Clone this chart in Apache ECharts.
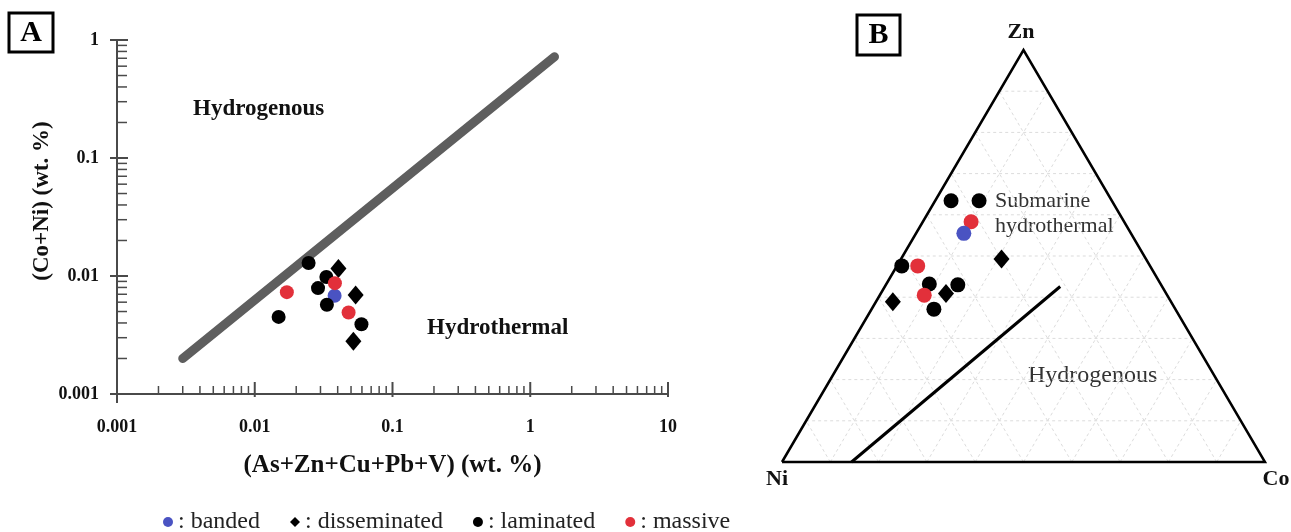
<!DOCTYPE html>
<html>
<head>
<meta charset="utf-8">
<title>Co+Ni vs As+Zn+Cu+Pb+V, Ni-Zn-Co</title>
<script src="https://cdn.jsdelivr.net/npm/echarts@6/dist/echarts.min.js"></script>
<style>
html, body {margin: 0; padding: 0; background: #fff;}
#chart {width: 1291px; height: 532px;}
</style>
</head>
<body>
<div id="chart"></div>
<script>
// 图A：[As+Zn+Cu+Pb+V, Co+Ni]，单位 wt.%
var bandedA = [[0.038, 0.0068]];
var dissemA = [[0.0405, 0.0116], [0.054, 0.0069], [0.052, 0.0028]];
var laminA = [[0.0246, 0.0129], [0.0331, 0.0098], [0.0288, 0.0079], [0.0334, 0.0057], [0.0149, 0.0045], [0.0595, 0.0039]];
var massiveA = [[0.0382, 0.0087], [0.0171, 0.0073], [0.048, 0.0049]];
var boundaryA = [[0.003, 0.002], [1.5, 0.72]];

// 图B：三角图，每个点为 [Ni, Zn, Co]
var bandedB = [[0.346, 0.555, 0.099]];
var dissemB = [[0.299, 0.493, 0.208], [0.456, 0.409, 0.135], [0.576, 0.389, 0.035]];
var laminB = [[0.333, 0.634, 0.033], [0.275, 0.634, 0.091], [0.514, 0.476, 0.010], [0.479, 0.432, 0.089], [0.421, 0.430, 0.149], [0.500, 0.371, 0.129]];
var massiveB = [[0.317, 0.583, 0.100], [0.481, 0.476, 0.043], [0.503, 0.405, 0.092]];
var boundaryB = [[0.856, 0, 0.144], [0.211, 0.426, 0.363]];
var triangleB = [[1, 0, 0], [0, 0, 1], [0, 1, 0], [1, 0, 0]];//Ni, Co, Zn 顶点

// 刻度
var xDecades = [0.001, 0.01, 0.1, 1, 10];
var yDecades = [0.001, 0.01, 0.1, 1];
var minorSteps = [2, 3, 4, 5, 6, 7, 8, 9];
var ternLevels = [0.1, 0.2, 0.3, 0.4, 0.5, 0.6, 0.7, 0.8, 0.9];

var serif = '"Liberation Serif", "Times New Roman", serif';
var colorBlue = '#4a53c2';
var colorRed = '#e2303a';
var axisColor = '#4a4a4a';

// 三角坐标 [Ni, Zn, Co] -> 直角坐标
function tern(p) {
	return [p[2] + p[1] / 2, p[1]];
}

function toXY(arr) {
	var out = [];
	for (var i = 0; i < arr.length; i++) {
		out.push(tern(arr[i]));
	}
	return out;
}

// 对数轴刻度：十倍数为大刻度(1)，2~9倍为小刻度(0)
function buildTicks(decades, fixed, isX) {
	var ticks = [];
	for (var i = 0; i < decades.length; i++) {
		ticks.push(isX ? [decades[i], fixed, 1, i] : [fixed, decades[i], 1, i]);
		if (i < decades.length - 1) {
			for (var j = 0; j < minorSteps.length; j++) {
				var v = +(decades[i] * minorSteps[j]).toPrecision(3);
				ticks.push(isX ? [v, fixed, 0, i] : [fixed, v, 0, i]);
			}
		}
	}
	return ticks;
}

function renderXTick(params, api) {
	var p = api.coord([api.value(0), api.value(1)]);
	var major = api.value(2) == 1;
	var down = major ? (api.value(3) == 0 ? 9 : 3) : 0;
	return {
		type: 'line',
		shape: {x1: p[0], y1: p[1] - (major ? 12 : 8), x2: p[0], y2: p[1] + down},
		style: {stroke: axisColor, lineWidth: major ? 2 : 1.5}
	};
}

function renderYTick(params, api) {
	var p = api.coord([api.value(0), api.value(1)]);
	var major = api.value(2) == 1;
	return {
		type: 'line',
		shape: {x1: p[0] - (major ? 7 : 0), y1: p[1], x2: p[0] + (major ? 11 : 10), y2: p[1]},
		style: {stroke: axisColor, lineWidth: major ? 2 : 1.5}
	};
}

// 三角图网格线，三个方向
function renderTernGrid(params, api) {
	var t = api.value(0);
	var segs = [
		[[1 - t, t, 0], [0, t, 1 - t]],
		[[1 - t, 0, t], [0, 1 - t, t]],
		[[t, 0, 1 - t], [t, 1 - t, 0]]
	];
	var children = [];
	for (var k = 0; k < segs.length; k++) {
		var a = api.coord(tern(segs[k][0]));
		var b = api.coord(tern(segs[k][1]));
		children.push({
			type: 'line',
			shape: {x1: a[0], y1: a[1], x2: b[0], y2: b[1]},
			style: {stroke: '#dcdcdc', lineWidth: 1, lineDash: [3, 3]}
		});
	}
	return {type: 'group', children: children};
}

function levelData() {
	var out = [];
	for (var i = 0; i < ternLevels.length; i++) {
		out.push([ternLevels[i], 0]);
	}
	return out;
}

function scatter(name, data, gi, symbol, size, color) {
	return {
		name: name,
		type: 'scatter',
		xAxisIndex: gi,
		yAxisIndex: gi,
		symbol: symbol,
		symbolSize: size,
		itemStyle: {color: color, opacity: 1},
		clip: false,
		z: 5,
		data: data
	};
}

function label(text, x, y, bold, size, align) {
	return {
		type: 'text',
		x: x,
		y: y,
		style: {
			text: text,
			font: (bold ? 'bold ' : '') + size + 'px ' + serif,
			fill: bold ? '#111' : '#333',
			align: align || 'left',
			verticalAlign: 'middle',
			lineHeight: 25
		}
	};
}

var option = {
	animation: false,
	backgroundColor: '#fff',
	grid: [
		{left: 117, top: 40, width: 551, height: 354},
		{left: 782, top: 50, width: 483, height: 412}
	],
	xAxis: [
		{
			type: 'log', logBase: 10, min: 0.001, max: 10, gridIndex: 0,
			name: '(As+Zn+Cu+Pb+V) (wt. %)', nameLocation: 'middle', nameGap: 59,
			nameTextStyle: {fontFamily: serif, fontWeight: 'bold', fontSize: 25, color: '#111'},
			axisLine: {lineStyle: {color: axisColor, width: 2}},
			axisTick: {show: false},
			splitLine: {show: false},
			axisLabel: {fontFamily: serif, fontWeight: 'bold', fontSize: 18, color: '#111', margin: 24}
		},
		{type: 'value', min: 0, max: 1, gridIndex: 1, show: false}
	],
	yAxis: [
		{
			type: 'log', logBase: 10, min: 0.001, max: 1, gridIndex: 0,
			name: '(Co+Ni) (wt. %)', nameLocation: 'middle', nameGap: 63, nameRotate: 90,
			nameTextStyle: {fontFamily: serif, fontWeight: 'bold', fontSize: 23, color: '#111', padding: [0, 0, 0, 32]},
			axisLine: {lineStyle: {color: axisColor, width: 2}},
			axisTick: {show: false},
			splitLine: {show: false},
			axisLabel: {fontFamily: serif, fontWeight: 'bold', fontSize: 18, color: '#111', margin: 18}
		},
		{type: 'value', min: 0, max: 1, gridIndex: 1, show: false}
	],
	legend: {
		data: ['banded', 'disseminated', 'laminated', 'massive'],
		left: 158, top: 505,
		itemWidth: 10, itemHeight: 10, itemGap: 30,
		formatter: function(n) { return ': ' + n; },
		textStyle: {fontFamily: serif, fontSize: 24, color: '#222'}
	},
	graphic: [
		{type: 'rect', shape: {x: 9, y: 13, width: 44, height: 39}, style: {fill: '#fff', stroke: '#000', lineWidth: 3}},
		{type: 'text', x: 31, y: 33, style: {text: 'A', font: 'bold 30px ' + serif, fill: '#000', align: 'center', verticalAlign: 'middle'}},
		{type: 'rect', shape: {x: 857, y: 15, width: 43, height: 40}, style: {fill: '#fff', stroke: '#000', lineWidth: 3}},
		{type: 'text', x: 878.5, y: 35, style: {text: 'B', font: 'bold 30px ' + serif, fill: '#000', align: 'center', verticalAlign: 'middle'}},
		label('Hydrogenous', 193, 109, true, 23),
		label('Hydrothermal', 427, 328, true, 23),
		label('Zn', 1021, 32, true, 22, 'center'),
		label('Ni', 777, 479, true, 22, 'center'),
		label('Co', 1276, 479, true, 22, 'center'),
		label('Submarine\nhydrothermal', 995, 214, false, 22),
		label('Hydrogenous', 1028, 376, false, 24)
	],
	series: [
		{type: 'custom', xAxisIndex: 0, yAxisIndex: 0, silent: true, encode: {x: 0, y: 1}, renderItem: renderXTick, data: buildTicks(xDecades, 0.001, true)},
		{type: 'custom', xAxisIndex: 0, yAxisIndex: 0, silent: true, encode: {x: 0, y: 1}, renderItem: renderYTick, data: buildTicks(yDecades, 0.001, false)},
		{
			name: 'boundaryA', type: 'line', xAxisIndex: 0, yAxisIndex: 0, silent: true,
			symbol: 'none', clip: false, z: 2,
			lineStyle: {color: '#5e5e5e', width: 9, cap: 'round'},
			data: boundaryA
		},
		scatter('banded', bandedA, 0, 'circle', 14, colorBlue),
		scatter('disseminated', dissemA, 0, 'diamond', [16, 19], '#000'),
		scatter('laminated', laminA, 0, 'circle', 14, '#000'),
		scatter('massive', massiveA, 0, 'circle', 14, colorRed),

		{type: 'custom', xAxisIndex: 1, yAxisIndex: 1, silent: true, encode: {x: 0, y: 1}, renderItem: renderTernGrid, data: levelData(), z: 1},
		{
			name: 'triangleB', type: 'line', xAxisIndex: 1, yAxisIndex: 1, silent: true,
			symbol: 'none', clip: false, z: 3,
			lineStyle: {color: '#000', width: 2.5, join: 'miter'},
			data: toXY(triangleB)
		},
		{
			name: 'boundaryB', type: 'line', xAxisIndex: 1, yAxisIndex: 1, silent: true,
			symbol: 'none', clip: false, z: 3,
			lineStyle: {color: '#000', width: 3},
			data: toXY(boundaryB)
		},
		scatter('laminated', toXY(laminB), 1, 'circle', 15, '#000'),
		scatter('disseminated', toXY(dissemB), 1, 'diamond', [16, 19], '#000'),
		scatter('massive', toXY(massiveB), 1, 'circle', 15, colorRed),
		scatter('banded', toXY(bandedB), 1, 'circle', 15, colorBlue)
	]
};

var myChart = echarts.init(document.getElementById('chart'));
myChart.setOption(option);//加载图表
</script>
</body>
</html>
